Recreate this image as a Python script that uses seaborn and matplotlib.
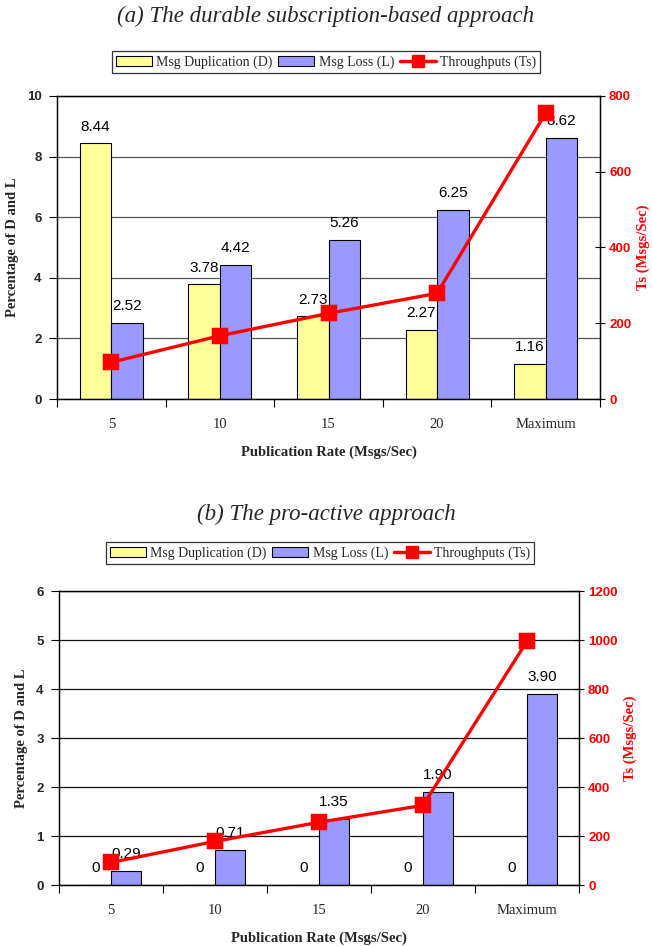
import matplotlib
matplotlib.use("Agg")
import matplotlib.pyplot as plt
import seaborn as sns
import pandas as pd
import numpy as np

# data
rates = ['5', '10', '15', '20', 'Maximum']

dup_a = [8.44, 3.78, 2.73, 2.27, 1.16]
loss_a = [2.52, 4.42, 5.26, 6.25, 8.62]
ts_a = [97, 167, 226, 279, 755]

dup_b = [0, 0, 0, 0, 0]
loss_b = [0.29, 0.71, 1.35, 1.90, 3.90]
ts_b = [92, 178, 256, 325, 995]

series_names = ['Msg Duplication (D)', 'Msg Loss (L)']
palette = {'Msg Duplication (D)': '#FFFF99', 'Msg Loss (L)': '#9999FF'}

sns.set_style('white')
plt.rcParams['font.family'] = ['Liberation Serif', 'DejaVu Serif']

SANS = 'Liberation Sans'


def fmt_val(v):
	if v == 0:
		return '0'
	return f'{v:.2f}'


def draw_panel(fig, rect, dup, loss, ts, ymax, ystep, ts_max, title, title_y,
			   legend_xy, grid_color):
	df = pd.DataFrame({
		'Rate': rates * 2,
		'Value': dup + loss,
		'Series': [series_names[0]] * len(rates) + [series_names[1]] * len(rates),
	})

	ax = fig.add_axes(rect)
	ax.set_axisbelow(True)
	sns.barplot(data=df, x='Rate', y='Value', hue='Series', order=rates,
				hue_order=series_names, palette=palette, width=0.58, gap=0,
				edgecolor='black', linewidth=0.8, saturation=1, ax=ax,
				legend=False)

	for cont in ax.containers:
		ax.bar_label(cont, fmt=fmt_val, padding=7, fontsize=11,
					 family=SANS, color='black')

	ax.set_ylim(0, ymax)
	ax.set_yticks(np.arange(0, ymax + ystep / 2, ystep))
	ax.yaxis.grid(True, color=grid_color, linewidth=0.9)
	ax.set_xlim(-0.5, len(rates) - 0.5)

	# category boundaries get the tick marks
	ax.set_xticks(np.arange(-0.5, len(rates), 1.0), minor=True)
	ax.tick_params(axis='x', which='major', length=0, pad=14, labelsize=10.5)
	ax.tick_params(axis='x', which='minor', length=6, width=0.8,
				   direction='out', color='black', bottom=True)
	ax.tick_params(axis='y', length=6, width=0.8, direction='out',
				   color='black', left=True, pad=5)
	for lbl in ax.get_yticklabels():
		lbl.set_fontfamily(SANS)
		lbl.set_fontweight('bold')
		lbl.set_fontsize(9.5)

	ax.set_xlabel('Publication Rate (Msgs/Sec)', fontsize=10.5,
				  fontweight='bold', labelpad=10)
	ax.set_ylabel('Percentage of D and L', fontsize=10.5, fontweight='bold',
				  labelpad=6)
	for sp in ax.spines.values():
		sp.set_color('black')
		sp.set_linewidth(0.9)

	ax2 = ax.twinx()
	sns.pointplot(x=rates, y=ts, order=rates, color='#FF0000', markers='s',
				  markersize=10, linewidth=2.4, ax=ax2)
	if ax2.get_legend() is not None:
		ax2.get_legend().remove()
	ax2.set_xlim(-0.5, len(rates) - 0.5)
	ax2.set_ylim(0, ts_max)
	ax2.set_yticks(np.arange(0, ts_max + 1, 200))
	ax2.tick_params(axis='y', length=7, width=0.8, direction='inout',
					color='black', labelcolor='#FF0000', pad=3, right=True)
	for lbl in ax2.get_yticklabels():
		lbl.set_fontfamily(SANS)
		lbl.set_fontweight('bold')
		lbl.set_fontsize(9.5)
	ax2.set_ylabel('Ts (Msgs/Sec)', color='#FF0000', fontsize=10.5,
				   fontweight='bold', labelpad=4)
	ax2.grid(False)
	for sp in ax2.spines.values():
		sp.set_color('black')
		sp.set_linewidth(0.9)

	# legend
	handles = [plt.Rectangle((0, 0), 1, 1, facecolor=palette[n],
							 edgecolor='black', linewidth=0.8)
			   for n in series_names]
	handles.append(plt.Line2D([], [], color='#FF0000', linewidth=2.5,
							  marker='s', markersize=9))
	leg = fig.legend(handles, series_names + ['Throughputs (Ts)'],
					 loc='center', bbox_to_anchor=legend_xy, ncol=3,
					 frameon=True, fancybox=False, edgecolor='black',
					 fontsize=10, handlelength=2.6, handletextpad=0.3,
					 columnspacing=0.4, borderpad=0.3, borderaxespad=0)
	leg.get_frame().set_linewidth(0.9)

	fig.text(0.5, title_y, title, ha='center', va='center', fontsize=16.5,
			 style='italic')
	return ax, ax2


fig = plt.figure(figsize=(6.52, 9.46), dpi=100)

draw_panel(fig, [57 / 652, 1 - 399 / 946, 543 / 652, 303 / 946],
		   dup_a, loss_a, ts_a, 10, 2, 800,
		   '(a) The durable subscription-based approach', 1 - 16 / 946,
		   (326 / 652, 1 - 62 / 946), '#555555')

draw_panel(fig, [59 / 652, 1 - 885 / 946, 520 / 652, 294 / 946],
		   dup_b, loss_b, ts_b, 6, 1, 1200,
		   '(b) The pro-active approach', 1 - 514 / 946,
		   (320 / 652, 1 - 553 / 946), '#111111')

fig.savefig('out.png', dpi=100)
